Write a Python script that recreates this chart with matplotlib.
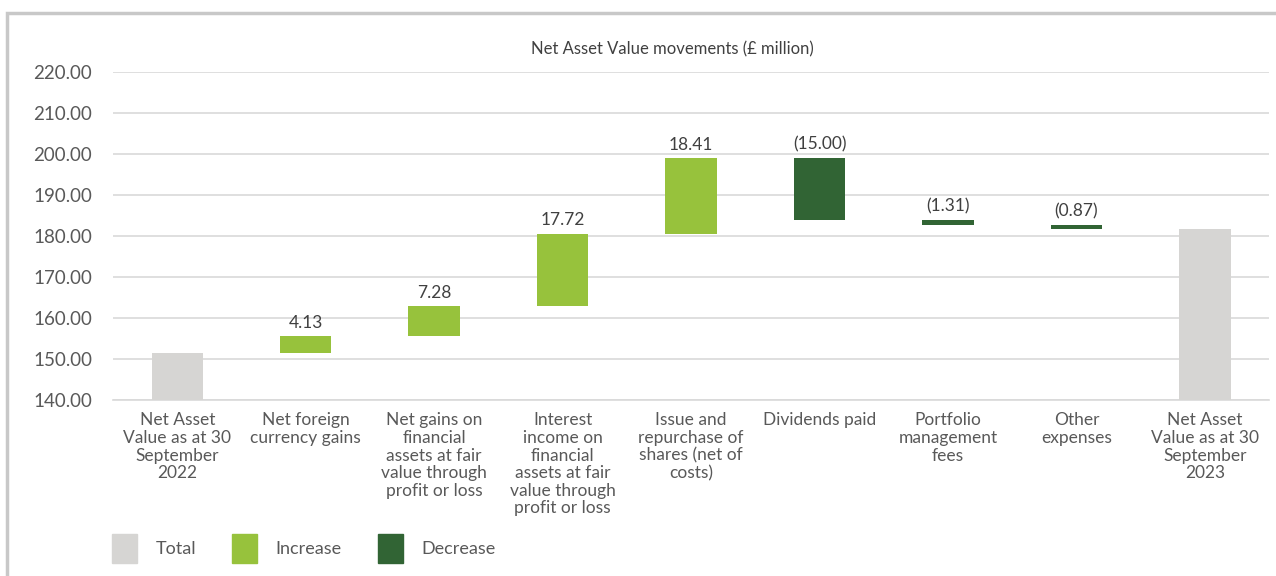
import numpy as np
import matplotlib.pyplot as plt
from matplotlib.patches import Patch

plt.rcParams["font.family"] = ["Lato", "DejaVu Sans"]

# ── data ─────────────────────────────────────────────────────────────────────
categories = [
    "Net Asset\nValue as at 30\nSeptember\n2022",
    "Net foreign\ncurrency gains",
    "Net gains on\nfinancial\nassets at fair\nvalue through\nprofit or loss",
    "Interest\nincome on\nfinancial\nassets at fair\nvalue through\nprofit or loss",
    "Issue and\nrepurchase of\nshares (net of\ncosts)",
    "Dividends paid",
    "Portfolio\nmanagement\nfees",
    "Other\nexpenses",
    "Net Asset\nValue as at 30\nSeptember\n2023",
]
start_nav = 151.46
changes = [4.13, 7.28, 17.72, 18.41, -15.00, -1.31, -0.87]
end_nav = start_nav + sum(changes)

TEXT = "#595959"
C_TOTAL = "#d6d5d3"
C_INC = "#97c23c"
C_DEC = "#316434"
GRID = "#d9d9d9"

fig = plt.figure(figsize=(12.76, 5.76), dpi=100)
ax = fig.add_axes([0.0886, 0.3056, 0.906, 0.5694])

x = np.arange(len(categories))
w = 0.4

# totals
ax.bar([x[0], x[-1]], [start_nav - 140, end_nav - 140], bottom=140,
       width=w, color=C_TOTAL, zorder=3)

# floating bars
level = start_nav
for i, d in enumerate(changes, start=1):
    lo, hi = min(level, level + d), max(level, level + d)
    ax.bar(x[i], hi - lo, bottom=lo, width=w,
           color=C_INC if d > 0 else C_DEC, zorder=3)
    lab = f"{d:.2f}" if d > 0 else f"({abs(d):.2f})"
    ax.annotate(lab, (x[i], hi), xytext=(0, 4), textcoords="offset points",
                ha="center", va="bottom", fontsize=12.5, color="#404040")
    level += d

ax.set_ylim(140, 220)
ax.set_xlim(-0.5, len(categories) - 0.5)
ax.set_yticks(np.arange(140, 221, 10))
ax.set_yticklabels([f"{v:.2f}" for v in np.arange(140, 221, 10)])
ax.set_xticks(x)
ax.set_xticklabels(categories, linespacing=1.12)
ax.tick_params(axis="both", length=0, colors=TEXT, labelsize=12.5)
ax.tick_params(axis="y", pad=15, labelsize=13.5)
ax.tick_params(axis="x", pad=9)
ax.grid(axis="y", color=GRID, linewidth=1.2, zorder=0)
for s in ["top", "right", "left"]:
    ax.spines[s].set_visible(False)
ax.spines["bottom"].set_color(GRID)
ax.spines["bottom"].set_linewidth(1.2)

fig.text(0.527, 0.915, "Net Asset Value movements (£ million)",
         ha="center", va="center", fontsize=12, color="#404040")

handles = [Patch(color=C_TOTAL), Patch(color=C_INC), Patch(color=C_DEC)]
fig.legend(handles, ["Total", "Increase", "Decrease"], loc="lower left",
           bbox_to_anchor=(0.075, -0.005), ncol=3, frameon=False,
           handlelength=1.4, handleheight=2.1, handletextpad=1.0,
           columnspacing=2.0, fontsize=13, labelcolor=TEXT)

# outer frame
fig.patches.append(plt.Rectangle((0.0055, -0.02), 1.2, 0.998, transform=fig.transFigure,
                                 fill=False, edgecolor="#c8c8c8", linewidth=2.5))

fig.savefig("out.png", dpi=100)
